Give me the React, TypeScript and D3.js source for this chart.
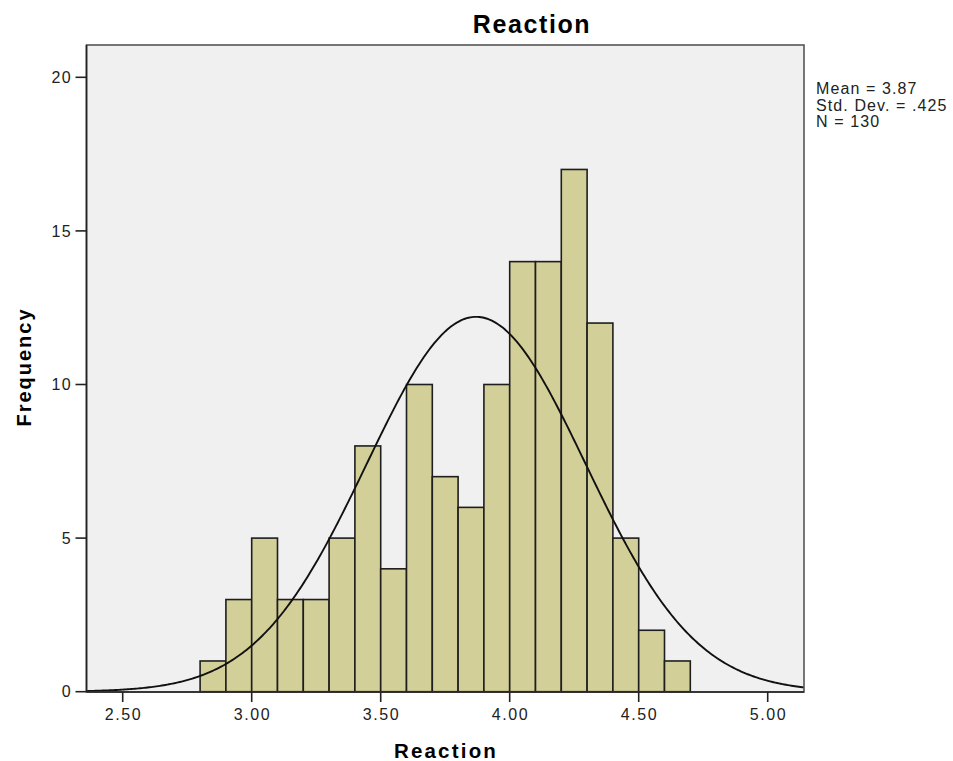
import React from "react";
import * as d3 from "d3";

const binStarts = [2.8, 2.9, 3.0, 3.1, 3.2, 3.3, 3.4, 3.5, 3.6, 3.7, 3.8, 3.9, 4.0, 4.1, 4.2, 4.3, 4.4, 4.5, 4.6];
const counts = [1, 3, 5, 3, 3, 5, 8, 4, 10, 7, 6, 10, 14, 14, 17, 12, 5, 2, 1];
const binWidth = 0.1;
const xTicks = [2.5, 3.0, 3.5, 4.0, 4.5, 5.0];
const yTicks = [0, 5, 10, 15, 20];
const mean = 3.87;
const sd = 0.425;
const n = 130;
const statLines = ["Mean = 3.87", "Std. Dev. = .425", "N = 130"];

const W = 953;
const H = 761;
const left = 86.5;
const right = 804;
const top = 45;
const bottom = 692;

export default function App() {
  const x = d3.scaleLinear().domain([2.5, 5.0]).range([122.7, 767.7]);
  const y = d3.scaleLinear().domain([0, 20]).range([691.7, 77.3]);
  const xMin = x.invert(left);
  const xMax = x.invert(right);
  const pts = d3.range(0, 401).map((i) => {
    const v = xMin + ((xMax - xMin) * i) / 400;
    const d = (n * binWidth) / (sd * Math.sqrt(2 * Math.PI)) * Math.exp(-((v - mean) ** 2) / (2 * sd * sd));
    return [v, d] as [number, number];
  });
  const line = d3
    .line<[number, number]>()
    .x((d) => x(d[0]))
    .y((d) => y(d[1]))
    .curve(d3.curveLinear);
  const font = "'Liberation Sans', Arial, sans-serif";

  return (
    <svg width={W} height={H} style={{ position: "absolute", left: 0, top: 0, background: "#fff" }}>
      <defs>
        <clipPath id="plotclip">
          <rect x={left} y={top} width={right - left} height={bottom - top} />
        </clipPath>
      </defs>
      <rect x={left} y={top} width={right - left} height={bottom - top} fill="#f0f0f0" stroke="none" />
      {binStarts.map((b, i) => (
        <rect
          key={i}
          x={x(b)}
          y={y(counts[i])}
          width={x(b + binWidth) - x(b)}
          height={y(0) - y(counts[i])}
          fill="#d3cf98"
          stroke="#1e1e1e"
          strokeWidth={1.6}
        />
      ))}
      <path d={line(pts) || ""} fill="none" stroke="#111" strokeWidth={1.9} clipPath="url(#plotclip)" />
      <rect x={left} y={top} width={right - left} height={bottom - top} fill="none" stroke="#555" strokeWidth={1.6} />
      {/* y axis */}
      <line x1={left} x2={left} y1={top} y2={bottom} stroke="#222" strokeWidth={1.6} />
      {yTicks.map((t) => (
        <g key={t}>
          <line x1={left - 11} x2={left} y1={y(t)} y2={y(t)} stroke="#222" strokeWidth={1.6} />
          <text
            x={72}
            y={y(t)}
            dy="0.36em"
            textAnchor="end"
            fontFamily={font}
            fontSize={16}
            letterSpacing={1.3}
            fill="#222"
          >
            {t}
          </text>
        </g>
      ))}
      {/* x axis */}
      <line x1={left} x2={right} y1={bottom} y2={bottom} stroke="#222" strokeWidth={1.6} />
      {xTicks.map((t) => (
        <g key={t}>
          <line x1={x(t)} x2={x(t)} y1={bottom} y2={bottom + 10} stroke="#222" strokeWidth={1.6} />
          <text
            x={x(t) + 0.8}
            y={720}
            textAnchor="middle"
            fontFamily={font}
            fontSize={16}
            letterSpacing={1.6}
            fill="#222"
          >
            {d3.format(".2f")(t)}
          </text>
        </g>
      ))}
      <text x={532} y={33} textAnchor="middle" fontFamily={font} fontWeight="bold" fontSize={25} letterSpacing={1.6} fill="#000">
        Reaction
      </text>
      <text x={446} y={758} textAnchor="middle" fontFamily={font} fontWeight="bold" fontSize={20.5} letterSpacing={2.2} fill="#000">
        Reaction
      </text>
      <text
        transform={`translate(31,${367}) rotate(-90)`}
        textAnchor="middle"
        fontFamily={font}
        fontWeight="bold"
        fontSize={20}
        letterSpacing={2.0}
        fill="#000"
      >
        Frequency
      </text>
      {statLines.map((s, i) => (
        <text key={i} x={816} y={94 + i * 16.7} fontFamily={font} fontSize={16} letterSpacing={1.1} fill="#222">
          {s}
        </text>
      ))}
    </svg>
  );
}
